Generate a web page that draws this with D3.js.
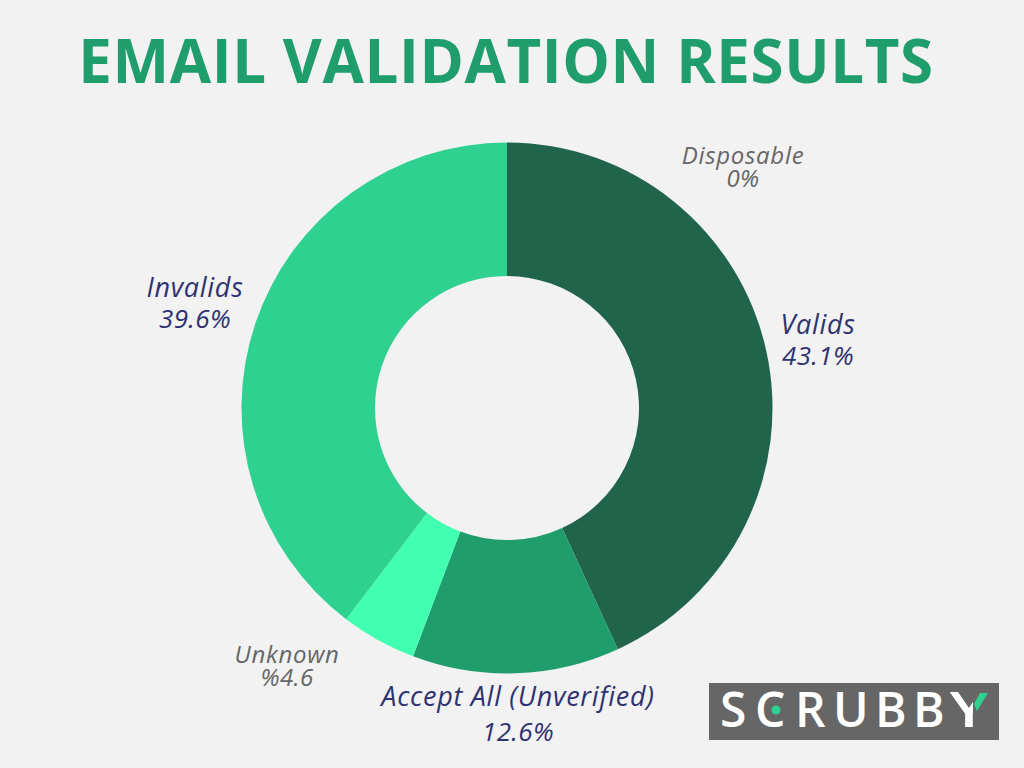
<!DOCTYPE html>
<html>
<head>
<meta charset="utf-8">
<script src="https://cdn.jsdelivr.net/npm/d3@7"></script>
<style>
  html, body { margin: 0; padding: 0; background: #f2f2f2; }
  svg { display: block; }
  text { font-family: "Open Sans", sans-serif; }
</style>
</head>
<body>
<svg id="chart" width="1024" height="768"></svg>
<script>
var categories = ["Valids", "Accept All (Unverified)", "Unknown", "Invalids", "Disposable"];
var values = [43.1, 12.6, 4.6, 39.6, 0];
var valueLabels = ["43.1%", "12.6%", "%4.6", "39.6%", "0%"];
var sliceColors = ["#20644b", "#1f9d6c", "#40ffb0", "#2fd191", "#666666"];
var labelColors = ["#2e3270", "#2e3270", "#666666", "#2e3270", "#666666"];
// label centres, placed by hand like the original
var labelX = [818, 518, 287, 195, 743];
var labelY = [334, 706, 663, 297, 164];

var svg = d3.select("#chart");
var cx = 507, cy = 408;

svg.append("text")
  .attr("x", 506)
  .attr("y", 83)
  .attr("text-anchor", "middle")
  .attr("font-size", 60)
  .attr("font-weight", 700)
  .attr("fill", "#1f9d6c")
  .attr("letter-spacing", 0.6)
  .text("EMAIL VALIDATION RESULTS");

var pie = d3.pie().sort(null).value(d => d);
var arc = d3.arc().innerRadius(132).outerRadius(265.5);

var g = svg.append("g").attr("transform", `translate(${cx},${cy})`);
g.selectAll("path")
  .data(pie(values))
  .enter()
  .append("path")
  .attr("d", arc)
  .attr("fill", (d, i) => sliceColors[i]);

// Labels
categories.forEach((name, i) => {
  var small = i == 2 || i == 4;
  var t = svg.append("text")
    .attr("text-anchor", "middle")
    .attr("font-style", "italic")
    .attr("fill", labelColors[i]);
  t.append("tspan")
    .attr("x", labelX[i])
    .attr("y", labelY[i])
    .attr("font-size", small ? 24 : 27)
    .attr("letter-spacing", 0.7)
    .text(name);
  t.append("tspan")
    .attr("x", labelX[i])
    .attr("y", labelY[i] + (i == 1 ? 35 : small ? 23 : 31))
    .attr("font-size", small ? 24 : 26)
    .attr("letter-spacing", 0.4)
    .text(valueLabels[i]);
});

// Logo
var logo = svg.append("g").attr("transform", "translate(709,683)");
logo.append("rect").attr("width", 290).attr("height", 57).attr("fill", "#666666");
svg.append("clipPath").attr("id", "yClip")
  .append("rect").attr("x", 235).attr("y", 0).attr("width", 29).attr("height", 57);
logo.append("text")
  .attr("x", "11 46 86 124 166 204")
  .attr("y", 44)
  .attr("font-size", 48)
  .attr("font-weight", 600)
  .attr("fill", "#ffffff")
  .text("SCRUBB");
logo.append("g").attr("clip-path", "url(#yClip)")
  .append("text")
  .attr("transform", "translate(260,44) scale(1.35,1)")
  .attr("text-anchor", "middle")
  .attr("font-size", 48)
  .attr("font-weight", 600)
  .attr("fill", "#ffffff")
  .text("Y");
logo.append("circle").attr("cx", 67).attr("cy", 27).attr("r", 4.5).attr("fill", "#2fd191");
logo.append("path").attr("d", "M271,10 L279,10 L268,28 L265,21 Z").attr("fill", "#2fd191");
</script>
</body>
</html>
